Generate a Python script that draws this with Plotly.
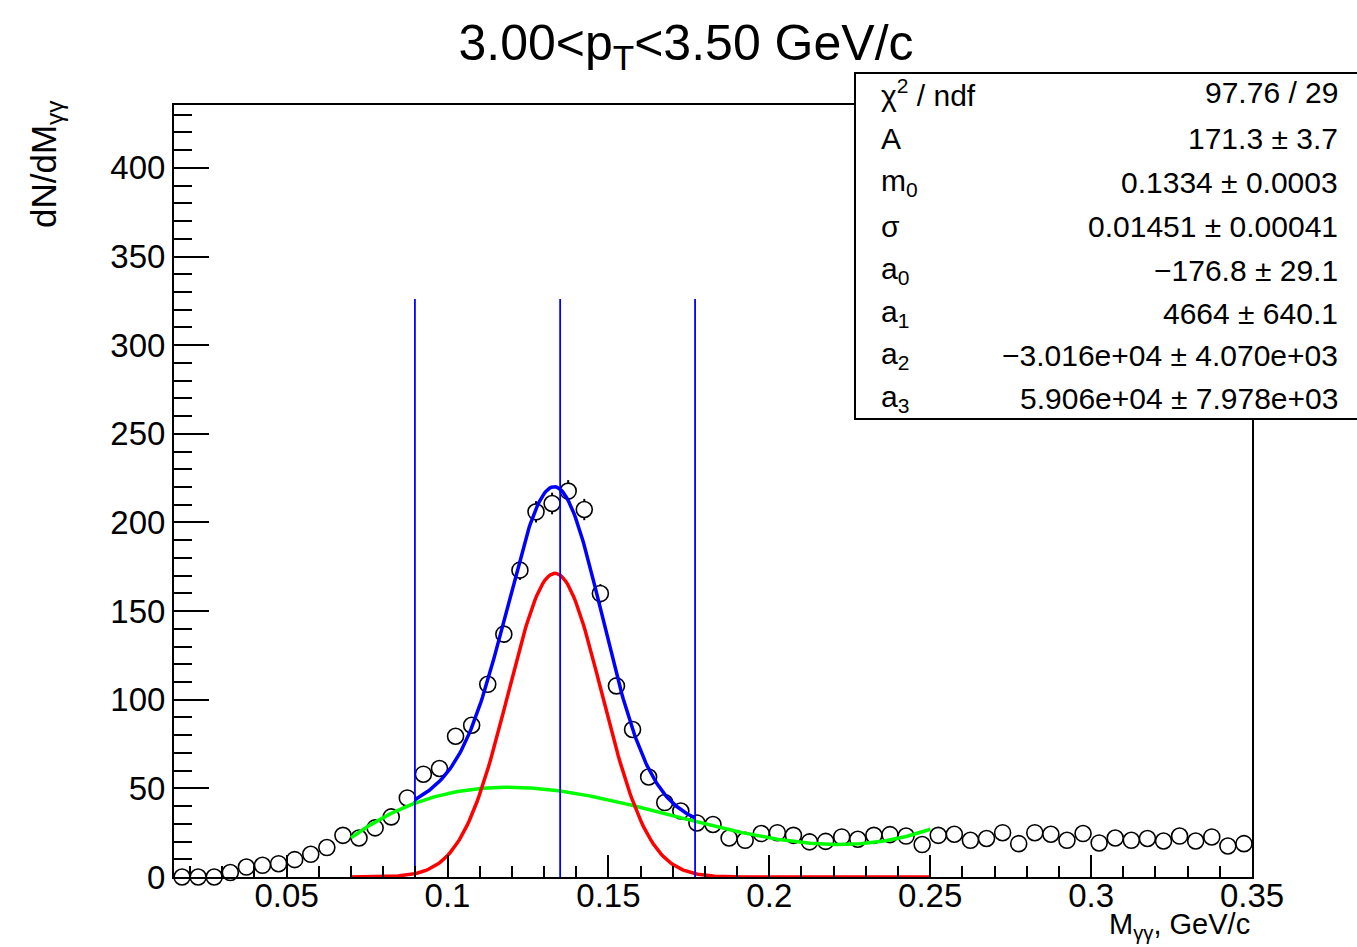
import numpy as np
import plotly.graph_objects as go

# ---------------- data ----------------
bin_low = 0.015
bin_width = 0.005
counts = [0, 0, 0, 2.5, 5.6, 6.6, 7.5, 9.8, 12.8, 16.6,
          23.5, 22, 27.7, 33.9, 44.6, 58, 61.2, 79.4, 85.6, 108.7,
          137, 173.1, 206, 210.7, 217.7, 207.3, 159.9, 107.8, 83.2, 56.4,
          42, 37.2, 30.5, 29.6, 22, 20.7, 24.5, 25, 23.5, 19.8,
          20.1, 22.6, 21.3, 23.5, 23.9, 23.1, 18.3, 23.5, 24.1, 20.7,
          21.7, 25, 18.8, 25, 24.1, 20.7, 24.5, 19.2, 22, 20.7,
          21.7, 20.3, 23.1, 20.3, 22.6, 17.5, 18.8]
errors = [0, 0, 0, 0.7, 1.0, 1.1, 1.2, 1.3, 1.5, 1.7,
          2.0, 2.0, 2.2, 2.4, 2.8, 3.2, 3.3, 3.7, 3.9, 4.4,
          4.9, 5.5, 6.0, 6.1, 6.2, 6.0, 5.3, 4.4, 3.8, 3.2,
          2.7, 2.6, 2.3, 2.3, 2.0, 1.9, 2.1, 2.1, 2.0, 1.9,
          1.9, 2.0, 1.9, 2.0, 2.1, 2.0, 1.8, 2.0, 2.1, 1.9,
          2.0, 2.1, 1.8, 2.1, 2.1, 1.9, 2.1, 1.8, 2.0, 1.9,
          2.0, 1.9, 2.0, 1.9, 2.0, 1.8, 1.8]

# fit parameters (from stats box)
A, m0, sigma = 171.3, 0.1334, 0.01451
a0, a1, a2, a3 = -176.8, 4664.0, -3.016e4, 5.906e4
fit_range = [0.07, 0.25]
line_x = [m0 - 3 * sigma, 0.135, m0 + 3 * sigma]
line_top = 326

stats_labels = ["χ<sup>2</sup> / ndf", "A", "m<sub>0</sub>", "σ",
                "a<sub>0</sub>", "a<sub>1</sub>", "a<sub>2</sub>", "a<sub>3</sub>"]
stats_values = ["97.76 / 29", "171.3 ± 3.7", "0.1334 ± 0.0003", "0.01451 ± 0.00041",
                "−176.8 ± 29.1", "4664 ± 640.1", "−3.016e+04 ± 4.070e+03",
                "5.906e+04 ± 7.978e+03"]

title_text = "3.00&lt;p<sub>T</sub>&lt;3.50 GeV/c"
x_title = "M<sub>γγ</sub>, GeV/c"
y_title = "dN/dM<sub>γγ</sub>"

# ---------------- figure ----------------
W, H = 1357, 947
L, R, T, B = 174, 1252, 105, 877
FONT = "Liberation Sans, Arial, Helvetica, sans-serif"

x_centers = [bin_low + bin_width * (i + 0.5) for i in range(len(counts))]

def gaus(x):
    return A * np.exp(-0.5 * ((x - m0) / sigma) ** 2)

def pol3(x):
    return a0 + a1 * x + a2 * x ** 2 + a3 * x ** 3

xf = np.linspace(fit_range[0], fit_range[1], 300)
xt = np.linspace(m0 - 3 * sigma, m0 + 3 * sigma, 200)

fig = go.Figure()
fig.add_trace(go.Scatter(
    x=x_centers, y=counts, mode="markers",
    marker=dict(symbol="circle", size=16, color="white",
                line=dict(color="black", width=1.6)),
    error_y=dict(type="data", array=errors, visible=True, color="black",
                 thickness=2, width=0),
    cliponaxis=False, showlegend=False))
fig.add_trace(go.Scatter(x=xf, y=pol3(xf), mode="lines",
                         line=dict(color="#00ff00", width=3.5), showlegend=False))
fig.add_trace(go.Scatter(x=xf, y=gaus(xf), mode="lines",
                         line=dict(color="#ff0000", width=3.5), showlegend=False))
fig.add_trace(go.Scatter(x=xt, y=gaus(xt) + pol3(xt), mode="lines",
                         line=dict(color="#0000ff", width=3.5), showlegend=False))
for lx in line_x:
    fig.add_trace(go.Scatter(x=[lx, lx], y=[0, line_top], mode="lines",
                             line=dict(color="#0000ff", width=1.8), showlegend=False))

def px2paper_x(px):
    return (px - L) / (R - L)

def py2paper_y(py):
    return (B - py) / (B - T)

shapes = [dict(type="rect", xref="paper", yref="paper",
               x0=px2paper_x(855), x1=px2paper_x(1358),
               y0=py2paper_y(419), y1=py2paper_y(73),
               line=dict(color="black", width=2), fillcolor="white", layer="above")]

row_y = [93, 138, 182, 226, 270, 313, 355, 398]
annotations = []
for lab, val, ry in zip(stats_labels, stats_values, row_y):
    annotations.append(dict(text=lab, xref="paper", yref="paper",
                            x=px2paper_x(879), y=py2paper_y(ry),
                            xanchor="left", yanchor="middle", showarrow=False,
                            font=dict(family=FONT, size=30, color="black")))
    annotations.append(dict(text=val, xref="paper", yref="paper",
                            x=px2paper_x(1340), y=py2paper_y(ry),
                            xanchor="right", yanchor="middle", showarrow=False,
                            font=dict(family=FONT, size=30, color="black")))
annotations.append(dict(text=x_title, xref="paper", yref="paper",
                        x=1.0, y=py2paper_y(946), xanchor="right", yanchor="bottom",
                        showarrow=False, font=dict(family=FONT, size=29, color="black")))
annotations.append(dict(text=y_title, xref="paper", yref="paper",
                        x=px2paper_x(46), y=py2paper_y(98), xanchor="center", yanchor="top",
                        textangle=-90, showarrow=False,
                        font=dict(family=FONT, size=35, color="black")))

fig.update_layout(
    width=W, height=H,
    margin=dict(l=L, r=W - R, t=T, b=H - B, pad=0),
    paper_bgcolor="white", plot_bgcolor="white",
    title=dict(text=title_text, x=686 / W, xanchor="center", xref="container",
               y=1 - 42 / H, yanchor="middle", yref="container",
               font=dict(family=FONT, size=50, color="black")),
    shapes=shapes, annotations=annotations,
    font=dict(family=FONT, color="black"),
)
fig.update_xaxes(range=[0.015, 0.35], tick0=0, dtick=0.05, ticks="inside", ticklen=22,
                 tickwidth=2, tickcolor="black", showline=True, linecolor="black",
                 linewidth=2, mirror=True, showgrid=False, zeroline=False,
                 ticklabelstandoff=-12,
                 tickfont=dict(family=FONT, size=33, color="black"),
                 minor=dict(dtick=0.01, tick0=0, ticks="inside", ticklen=11,
                            tickwidth=2, tickcolor="black", showgrid=False))
fig.update_yaxes(range=[0, 435.5], tick0=0, dtick=50, ticks="inside", ticklen=35,
                 tickwidth=2, tickcolor="black", showline=True, linecolor="black",
                 linewidth=2, mirror=True, showgrid=False, zeroline=False,
                 tickfont=dict(family=FONT, size=33, color="black"),
                 minor=dict(dtick=10, tick0=0, ticks="inside", ticklen=18,
                            tickwidth=2, tickcolor="black", showgrid=False))

fig.write_html("out.html")
